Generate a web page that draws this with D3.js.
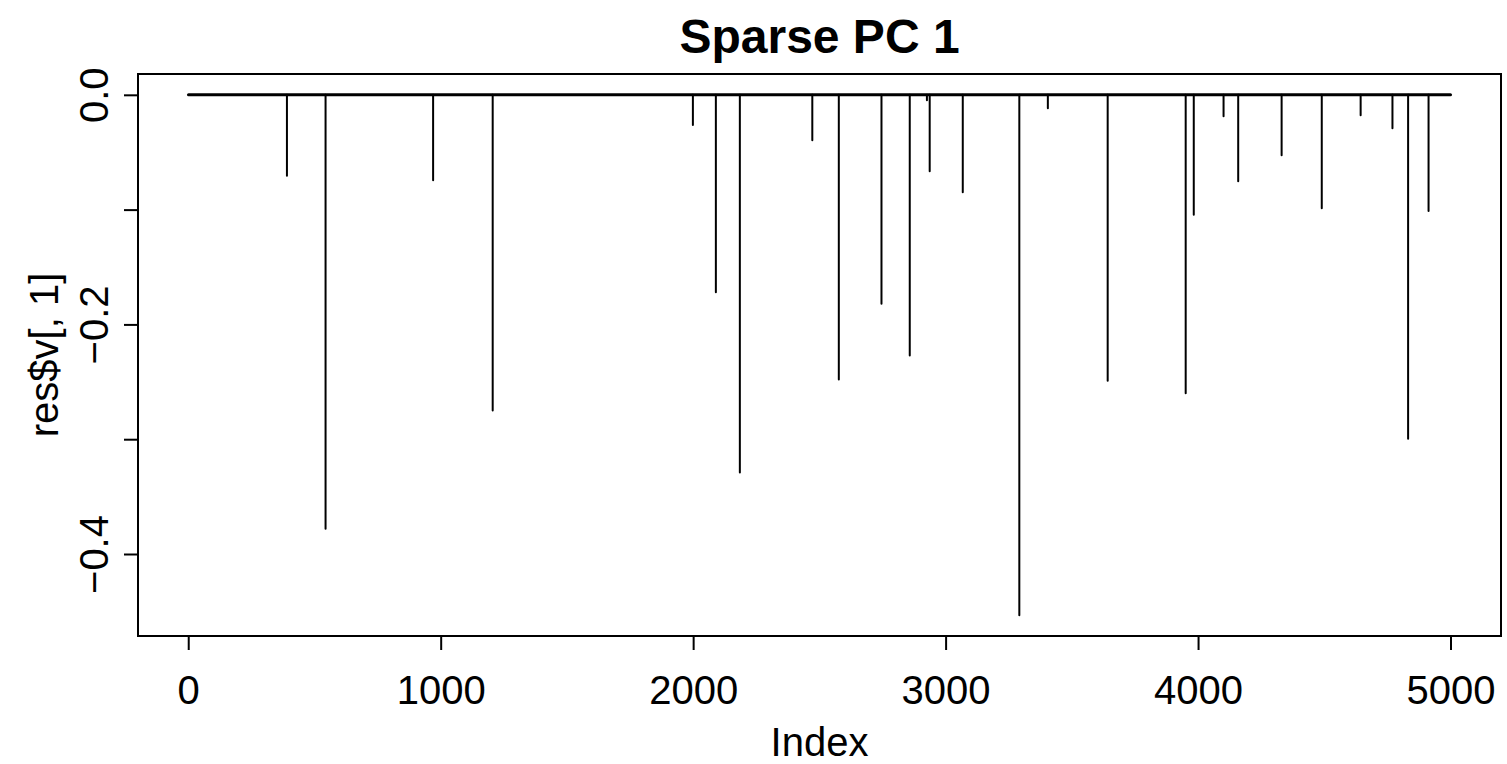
<!DOCTYPE html>
<html>
<head>
<meta charset="utf-8">
<script src="https://cdn.jsdelivr.net/npm/d3@7"></script>
<style>
  html, body { margin: 0; padding: 0; background: #fff; }
  svg { display: block; }
  text { font-family: "Liberation Sans", Arial, Helvetica, sans-serif; fill: #000; }
</style>
</head>
<body>
<svg id="chart" width="1507" height="764"></svg>
<script>
// ---- data (non-zero loadings of res$v[,1]; all other of the 5000 entries are 0) ----
const nPoints = 5000;
const spikeIndex = [391, 544, 970, 1206, 1999, 2090, 2185, 2472, 2577, 2746, 2858, 2926, 2937, 3068,
                    3292, 3405, 3642, 3951, 3983, 4101, 4159, 4331, 4490, 4644, 4770, 4832, 4913];
const spikeValue = [-0.0705, -0.378, -0.0745, -0.275, -0.0262, -0.172, -0.329, -0.0395, -0.248, -0.182,
                    -0.227, -0.0048, -0.0665, -0.0848, -0.4533, -0.0118, -0.249, -0.260, -0.1045,
                    -0.0186, -0.0753, -0.0527, -0.0988, -0.0178, -0.0291, -0.2995, -0.1013];
const xTickValues = [0, 1000, 2000, 3000, 4000, 5000];
const yTickValues = [0, -0.1, -0.2, -0.3, -0.4];
const yTickLabels = ["0.0", "", "\u22120.2", "", "\u22120.4"];
const titleText = "Sparse PC 1";
const xLabelText = "Index";
const yLabelText = "res$v[, 1]";

// ---- layout ----
const plot = { left: 138, right: 1501, top: 74, bottom: 636 };
const svg = d3.select("#chart");

// R-style 4% axis extension
const xSpan = nPoints - 1;
const x = d3.scaleLinear()
  .domain([1 - 0.04 * xSpan, nPoints + 0.04 * xSpan])
  .range([plot.left, plot.right]);
const yMin = d3.min(spikeValue), yMax = 0;
const ySpan = yMax - yMin;
const y = d3.scaleLinear()
  .domain([yMin - 0.04 * ySpan, yMax + 0.04 * ySpan])
  .range([plot.bottom, plot.top]);

// ---- baseline (zero-valued entries, drawn as type="h") ----
svg.append("line")
  .attr("x1", x(1)).attr("x2", x(nPoints))
  .attr("y1", y(0)).attr("y2", y(0))
  .attr("stroke", "#000").attr("stroke-width", 3).attr("stroke-linecap", "round");

// ---- spikes ----
const spikes = spikeIndex.map((d, i) => ({ idx: d, v: spikeValue[i] }));
svg.append("g").selectAll("line").data(spikes).join("line")
  .attr("x1", d => x(d.idx)).attr("x2", d => x(d.idx))
  .attr("y1", y(0)).attr("y2", d => y(d.v))
  .attr("stroke", "#000").attr("stroke-width", 2).attr("stroke-linecap", "round");

// ---- box ----
svg.append("rect")
  .attr("x", plot.left).attr("y", plot.top)
  .attr("width", plot.right - plot.left).attr("height", plot.bottom - plot.top)
  .attr("fill", "none").attr("stroke", "#000").attr("stroke-width", 2);

// ---- x axis ----
const xAxis = svg.append("g")
  .attr("transform", `translate(0,${plot.bottom})`)
  .call(d3.axisBottom(x).tickValues(xTickValues).tickSize(14).tickPadding(10).tickFormat(d3.format("d")));
xAxis.select(".domain").remove();
xAxis.append("line")
  .attr("x1", x(xTickValues[0])).attr("x2", x(xTickValues[xTickValues.length - 1]))
  .attr("stroke", "#000").attr("stroke-width", 2);
xAxis.selectAll(".tick line").attr("stroke", "#000").attr("stroke-width", 2);
xAxis.selectAll(".tick text")
  .attr("font-size", 40).attr("fill", "#000")
  .attr("dy", null).attr("y", 68);

// ---- y axis ----
const yAxis = svg.append("g")
  .attr("transform", `translate(${plot.left},0)`)
  .call(d3.axisLeft(y).tickValues(yTickValues).tickSize(14).tickFormat((d, i) => yTickLabels[i]));
yAxis.select(".domain").remove();
yAxis.append("line")
  .attr("y1", y(yTickValues[0])).attr("y2", y(yTickValues[yTickValues.length - 1]))
  .attr("stroke", "#000").attr("stroke-width", 2);
yAxis.selectAll(".tick line").attr("stroke", "#000").attr("stroke-width", 2);
yAxis.selectAll(".tick text")
  .attr("font-size", 40).attr("fill", "#000")
  .attr("x", null).attr("dy", null)
  .attr("text-anchor", "middle")
  .attr("transform", "translate(-30,0) rotate(-90)");

// ---- titles ----
svg.append("text")
  .attr("x", (plot.left + plot.right) / 2).attr("y", 53)
  .attr("text-anchor", "middle").attr("font-size", 48).attr("font-weight", "bold")
  .text(titleText);
svg.append("text")
  .attr("x", (plot.left + plot.right) / 2).attr("y", 756)
  .attr("text-anchor", "middle").attr("font-size", 40)
  .text(xLabelText);
svg.append("text")
  .attr("transform", `translate(58,${(plot.top + plot.bottom) / 2}) rotate(-90)`)
  .attr("text-anchor", "middle").attr("font-size", 40)
  .text(yLabelText);
</script>
</body>
</html>
